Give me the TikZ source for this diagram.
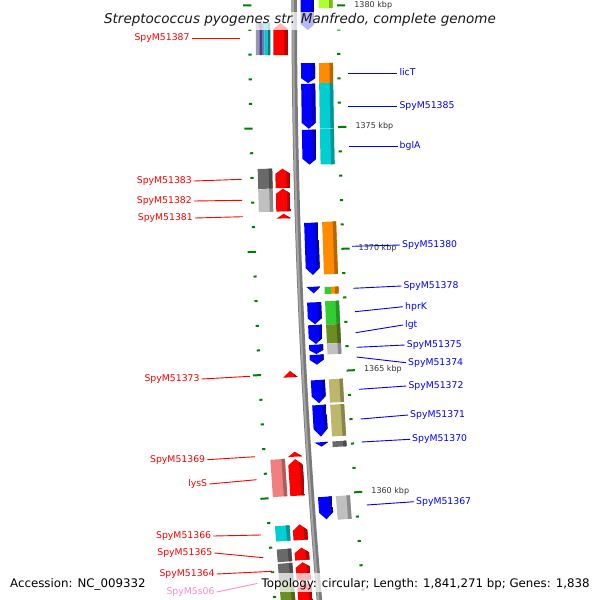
\documentclass[tikz,border=0pt]{standalone}
\usepackage{fontspec}
\setmainfont{DejaVu Sans}
\definecolor{gblue}{RGB}{0,0,255}
\definecolor{gred}{RGB}{255,0,0}
\definecolor{gorange}{RGB}{255,140,0}
\definecolor{gcyan}{RGB}{0,206,209}
\definecolor{glime}{RGB}{173,255,47}
\definecolor{ggreen}{RGB}{50,205,50}
\definecolor{golive}{RGB}{107,142,35}
\definecolor{gsilver}{RGB}{192,192,192}
\definecolor{gdim}{RGB}{105,105,105}
\definecolor{gkhaki}{RGB}{189,183,107}
\definecolor{gcoral}{RGB}{240,128,128}
\definecolor{gslate}{RGB}{72,61,139}
\definecolor{gsteel}{RGB}{90,130,180}
\definecolor{glav}{RGB}{150,150,175}
\definecolor{tickgreen}{RGB}{0,128,0}
\definecolor{lblpink}{RGB}{255,140,200}
\definecolor{bbdark}{RGB}{122,122,122}
\definecolor{bblight}{RGB}{165,165,165}
% position on the arc: backbone point and local angle for arc length #1
\newcommand\atarc[1]{%
  \pgfmathsetmacro\Gbx{294.2+((#1)/100)*((#1)/100)/1.43}%
  \pgfmathsetmacro\Gba{(#1)*0.008013}}
\newcommand\gprep[2]{%
  \pgfmathsetmacro\Gsm{((#1)+(#2))/2}\atarc{\Gsm}%
  \pgfmathsetmacro\Gta{(#1)-\Gsm}\pgfmathsetmacro\Gtb{(#2)-\Gsm}}
\newcommand\gflat[5]{\gprep{#1}{#2}%
  \begin{scope}[shift={(\Gbx,\Gsm)},rotate=\Gba]
    \fill[#5] (#3,\Gta) -- (#4,\Gta) -- (#4,\Gtb) -- (#3,\Gtb) -- cycle;
  \end{scope}}
\newcommand\gbox[5]{\gprep{#1}{#2}%
  \begin{scope}[shift={(\Gbx,\Gsm)},rotate=\Gba]
    \fill[#5] (#3,\Gta) -- (#4,\Gta) -- (#4,\Gtb) -- (#3,\Gtb) -- cycle;
    \fill[#5!72!black] ({#4-3.5},\Gta) -- (#4,\Gta) -- (#4,\Gtb) -- ({#4-3.5},\Gtb) -- cycle;
  \end{scope}}
\newcommand\gdown[6]{\gprep{#1}{#2}%
  \pgfmathsetmacro\Gth{max(\Gtb-(#6),\Gta)}\pgfmathsetmacro\Gdm{((#3)+(#4))/2}%
  \begin{scope}[shift={(\Gbx,\Gsm)},rotate=\Gba]
    \clip (#3,\Gta) -- (#4,\Gta) -- (#4,\Gth) -- (\Gdm,\Gtb) -- (#3,\Gth) -- cycle;
    \fill[#5] (#3,\Gta) -- (#4,\Gta) -- (#4,\Gtb) -- (#3,\Gtb) -- cycle;
    \fill[#5!72!black] ({#4-3.5},\Gta) -- (#4,\Gta) -- (#4,\Gtb) -- ({#4-3.5},\Gtb) -- cycle;
  \end{scope}}
\newcommand\gup[6]{\gprep{#1}{#2}%
  \pgfmathsetmacro\Gth{min(\Gta+(#6),\Gtb)}\pgfmathsetmacro\Gdm{((#3)+(#4))/2}%
  \begin{scope}[shift={(\Gbx,\Gsm)},rotate=\Gba]
    \clip (#3,\Gtb) -- (#4,\Gtb) -- (#4,\Gth) -- (\Gdm,\Gta) -- (#3,\Gth) -- cycle;
    \fill[#5] (#3,\Gta) -- (#4,\Gta) -- (#4,\Gtb) -- (#3,\Gtb) -- cycle;
    \fill[#5!72!black] ({#4-3.5},\Gta) -- (#4,\Gta) -- (#4,\Gtb) -- ({#4-3.5},\Gtb) -- cycle;
  \end{scope}}
\begin{document}
\begin{tikzpicture}[x=1pt,y=-1pt,
  lbl/.style={font=\fontsize{9.3}{11}\selectfont, inner sep=2pt, text height=7pt, text depth=2pt},
  redlbl/.style={lbl, text=gred, anchor=east},
  bluelbl/.style={lbl, text=gblue, anchor=west},
  redln/.style={draw=gred, line width=0.9pt},
  blueln/.style={draw=gblue, line width=0.9pt},
  pinkln/.style={draw=lblpink, line width=0.9pt},
  kbp/.style={font=\fontsize{8}{9}\selectfont, text=black!80, inner sep=0pt, anchor=west},
  wash/.style={fill=white, fill opacity=0.72},
  legend/.style={font=\fontsize{11.8}{14}\selectfont, inner sep=0pt, anchor=base west}
]
\useasboundingbox (0,0) rectangle (600,600);
\fill[white] (0,0) rectangle (600,600);
\begin{scope}
\clip (0,0) rectangle (600,600);
% backbone
\draw[line width=5.5pt, bbdark] plot[domain=-10:615, samples=40] ({294.2+(\x/100)*(\x/100)/1.43},\x);
\draw[line width=2pt, bblight] plot[domain=-10:615, samples=40] ({293.2+(\x/100)*(\x/100)/1.43},\x);
% ticks
\foreach \k in {0,...,24}{
  \pgfmathsetmacro\Gs{5.3+\k*24.5}
  \atarc{\Gs}
  \pgfmathtruncatemacro\Gm{mod(\k,5)}
  \begin{scope}[shift={(\Gbx,\Gs)},rotate=\Gba]
    \ifnum\Gm=0
      \fill[tickgreen] (-51,-1) -- (-42.8,-1) -- (-42.8,1) -- (-51,1) -- cycle;
      \fill[tickgreen] (42.8,-1) -- (51,-1) -- (51,1) -- (42.8,1) -- cycle;
      \pgfmathtruncatemacro\Gkb{1380-\k}
      \node[kbp] (kbp\Gkb) at (60,0) {\Gkb\ kbp};
    \else
      \fill[tickgreen] (-46,-1) -- (-42.8,-1) -- (-42.8,1) -- (-46,1) -- cycle;
      \fill[tickgreen] (42.8,-1) -- (46,-1) -- (46,1) -- (42.8,1) -- cycle;
    \fi
  \end{scope}
}
% right strand features
\gdown{-12}{30}{6.5}{20.5}{gblue}{6}
\gbox{-12}{8}{24.5}{38.5}{glime}
\gdown{63.3}{83.3}{6.5}{20.5}{gblue}{5}
\gbox{63.3}{83.3}{24.5}{38.5}{gorange}
\gdown{84}{129}{6.5}{20.5}{gblue}{6}
\gbox{83.6}{129}{24.5}{38.5}{gcyan}
\gdown{130}{165}{6.5}{20.5}{gblue}{6}
\gbox{129.6}{165}{24.5}{38.5}{gcyan}
\gdown{223.2}{275.5}{6.5}{20.5}{gblue}{7}
\gbox{222.7}{275.2}{24.5}{38.5}{gorange}
\gdown{287.3}{293.9}{6.5}{20.5}{gblue}{10}
\gflat{288}{295}{24.5}{31}{ggreen}
\gbox{288}{295}{31}{38.5}{gorange}
\gdown{302.9}{324.9}{6.5}{20.5}{gblue}{6}
\gbox{302.3}{325.8}{24.5}{38.5}{ggreen}
\gdown{325.6}{344.7}{6.5}{20.5}{gblue}{6}
\gbox{325.8}{344.7}{24.5}{38.5}{golive}
\gdown{345.3}{354.7}{6.5}{20.5}{gblue}{4}
\gbox{344.9}{355.6}{24.5}{38.5}{gsilver}
\gdown{355.4}{365.4}{6.5}{20.5}{gblue}{5}
\gdown{380.8}{404}{6.5}{20.5}{gblue}{7}
\gbox{380.7}{404}{24.5}{38.5}{gkhaki}
\gdown{405.8}{437.5}{6.5}{20.5}{gblue}{8}
\gbox{406.2}{437.9}{24.5}{38.5}{gkhaki}
\gdown{443}{447.5}{6.5}{20.5}{gblue}{10}
\gbox{443}{448.6}{24.5}{38.5}{gdim}
\gdown{497.7}{520.3}{6.5}{20.5}{gblue}{7}
\gbox{497.9}{521.5}{24.5}{38.5}{gsilver}
% left strand features
\gup{23}{55}{-21}{-6.5}{gred}{6}
\gflat{23}{55}{-38.5}{-35}{glav}
\gflat{23}{55}{-35}{-32.3}{gslate}
\gflat{23}{55}{-32.3}{-29.7}{gsteel}
\gflat{23}{55}{-29.7}{-26.6}{gcyan}
\gflat{23}{55}{-26.6}{-24}{gcyan!60!black}
\gup{168.3}{187.7}{-21}{-6.5}{gred}{5}
\gbox{168}{188}{-38.5}{-24}{gdim}
\gup{188.3}{211}{-21}{-6.5}{gred}{5}
\gbox{188.3}{211}{-38.5}{-24}{gsilver}
\gup{213.3}{218}{-21}{-6.5}{gred}{10}
\gup{370}{376.6}{-21}{-6.5}{gred}{10}
\gup{450.8}{455.8}{-21}{-6.5}{gred}{10}
\gup{458.1}{494.8}{-21}{-6.5}{gred}{6}
\gbox{457.2}{494.6}{-38.5}{-24}{gcoral}
\gup{523.3}{539}{-21}{-6.5}{gred}{6}
\gbox{523.4}{538.7}{-38.5}{-24}{gcyan}
\gup{546.6}{559}{-21}{-6.5}{gred}{5}
\gbox{546.6}{559.3}{-38.5}{-24}{gdim}
\gup{561.1}{579}{-21}{-6.5}{gred}{5}
\gbox{560.8}{579.2}{-38.5}{-24}{gdim}
\gup{580}{625}{-21}{-6.5}{gred}{6}
\gbox{579.5}{625}{-38.5}{-24}{golive}
\end{scope}
% left labels
\node[redlbl] (t87) at (191.7,38.3) {SpyM51387};
\coordinate (c87) at (240,38.3);
\draw[redln] (t87.east) -- (c87);
\node[redlbl] (t83) at (194,181) {SpyM51383};
\coordinate (c83) at (241.7,179.3);
\draw[redln] (t83.east) -- (c83);
\node[redlbl] (t82) at (194,201) {SpyM51382};
\coordinate (c82) at (242,200.3);
\draw[redln] (t82.east) -- (c82);
\node[redlbl] (t81) at (195,218) {SpyM51381};
\coordinate (c81) at (243,216.7);
\draw[redln] (t81.east) -- (c81);
\node[redlbl] (t73) at (201.7,379) {SpyM51373};
\coordinate (c73) at (250,376.3);
\draw[redln] (t73.east) -- (c73);
\node[redlbl] (t69) at (207.3,459.7) {SpyM51369};
\coordinate (c69) at (255,456.7);
\draw[redln] (t69.east) -- (c69);
\node[redlbl] (tlys) at (209.3,484) {lysS};
\coordinate (clys) at (256.7,479.7);
\draw[redln] (tlys.east) -- (clys);
\node[redlbl] (t66) at (213.3,536) {SpyM51366};
\coordinate (c66) at (261,535);
\draw[redln] (t66.east) -- (c66);
\node[redlbl] (t65) at (214.5,553) {SpyM51365};
\coordinate (c65) at (263.3,557.7);
\draw[redln] (t65.east) -- (c65);
\node[redlbl] (t64) at (216.7,574) {SpyM51364};
\coordinate (c64) at (272,571.3);
\draw[redln] (t64.east) -- (c64);
\node[lbl, text=lblpink, anchor=east] (ts06) at (216.7,592) {SpyM5s06};
\coordinate (cs06) at (258,583.3);
\draw[pinkln] (ts06.east) -- (cs06);
% right labels
\coordinate (sLic) at (348,73);
\node[bluelbl] (rLic) at (397.3,73) {licT};
\draw[blueln] (sLic) -- (rLic.west);
\coordinate (s85) at (348,106);
\node[bluelbl] (r85) at (397.3,106) {SpyM51385};
\draw[blueln] (s85) -- (r85.west);
\coordinate (sBgl) at (349,146.3);
\node[bluelbl] (rBgl) at (397.5,146.3) {bglA};
\draw[blueln] (sBgl) -- (rBgl.west);
\coordinate (s80) at (352,246.3);
\node[bluelbl] (r80) at (400,245) {SpyM51380};
\draw[blueln] (s80) -- (r80.west);
\coordinate (s78) at (353.3,288.3);
\node[bluelbl] (r78) at (401.3,286) {SpyM51378};
\draw[blueln] (s78) -- (r78.west);
\coordinate (sHpr) at (355,311.7);
\node[bluelbl] (rHpr) at (403,306.7) {hprK};
\draw[blueln] (sHpr) -- (rHpr.west);
\coordinate (sLgt) at (355.7,332.7);
\node[bluelbl] (rLgt) at (403,325) {lgt};
\draw[blueln] (sLgt) -- (rLgt.west);
\coordinate (s75) at (356.7,347.3);
\node[bluelbl] (r75) at (404.7,345) {SpyM51375};
\draw[blueln] (s75) -- (r75.west);
\coordinate (s74) at (356.7,357);
\node[bluelbl] (r74) at (406,362.7) {SpyM51374};
\draw[blueln] (s74) -- (r74.west);
\coordinate (s72) at (359,389.3);
\node[bluelbl] (r72) at (406.3,386) {SpyM51372};
\draw[blueln] (s72) -- (r72.west);
\coordinate (s71) at (360.7,419);
\node[bluelbl] (r71) at (408,415) {SpyM51371};
\draw[blueln] (s71) -- (r71.west);
\coordinate (s70) at (361.7,442);
\node[bluelbl] (r70) at (410,439.3) {SpyM51370};
\draw[blueln] (s70) -- (r70.west);
\coordinate (s67) at (366.7,505);
\node[bluelbl] (r67) at (414,501.7) {SpyM51367};
\draw[blueln] (s67) -- (r67.west);
% title and legend
\fill[wash] (98,11.5) rectangle (502,30);
\node[font=\fontsize{13.5}{16}\selectfont\itshape, text=black!90, inner sep=0pt, anchor=base] (title) at (300,23.6) {Streptococcus pyogenes str. Manfredo, complete genome};
\fill[wash] (6,573) rectangle (147,592);
\fill[wash] (257,573) rectangle (594,592);
\node[legend] (acc) at (10,587) {Accession: NC\_009332};
\node[legend] (topo) at (261.5,587) {Topology: circular; Length: 1,841,271 bp; Genes: 1,838};
\end{tikzpicture}
\end{document}
